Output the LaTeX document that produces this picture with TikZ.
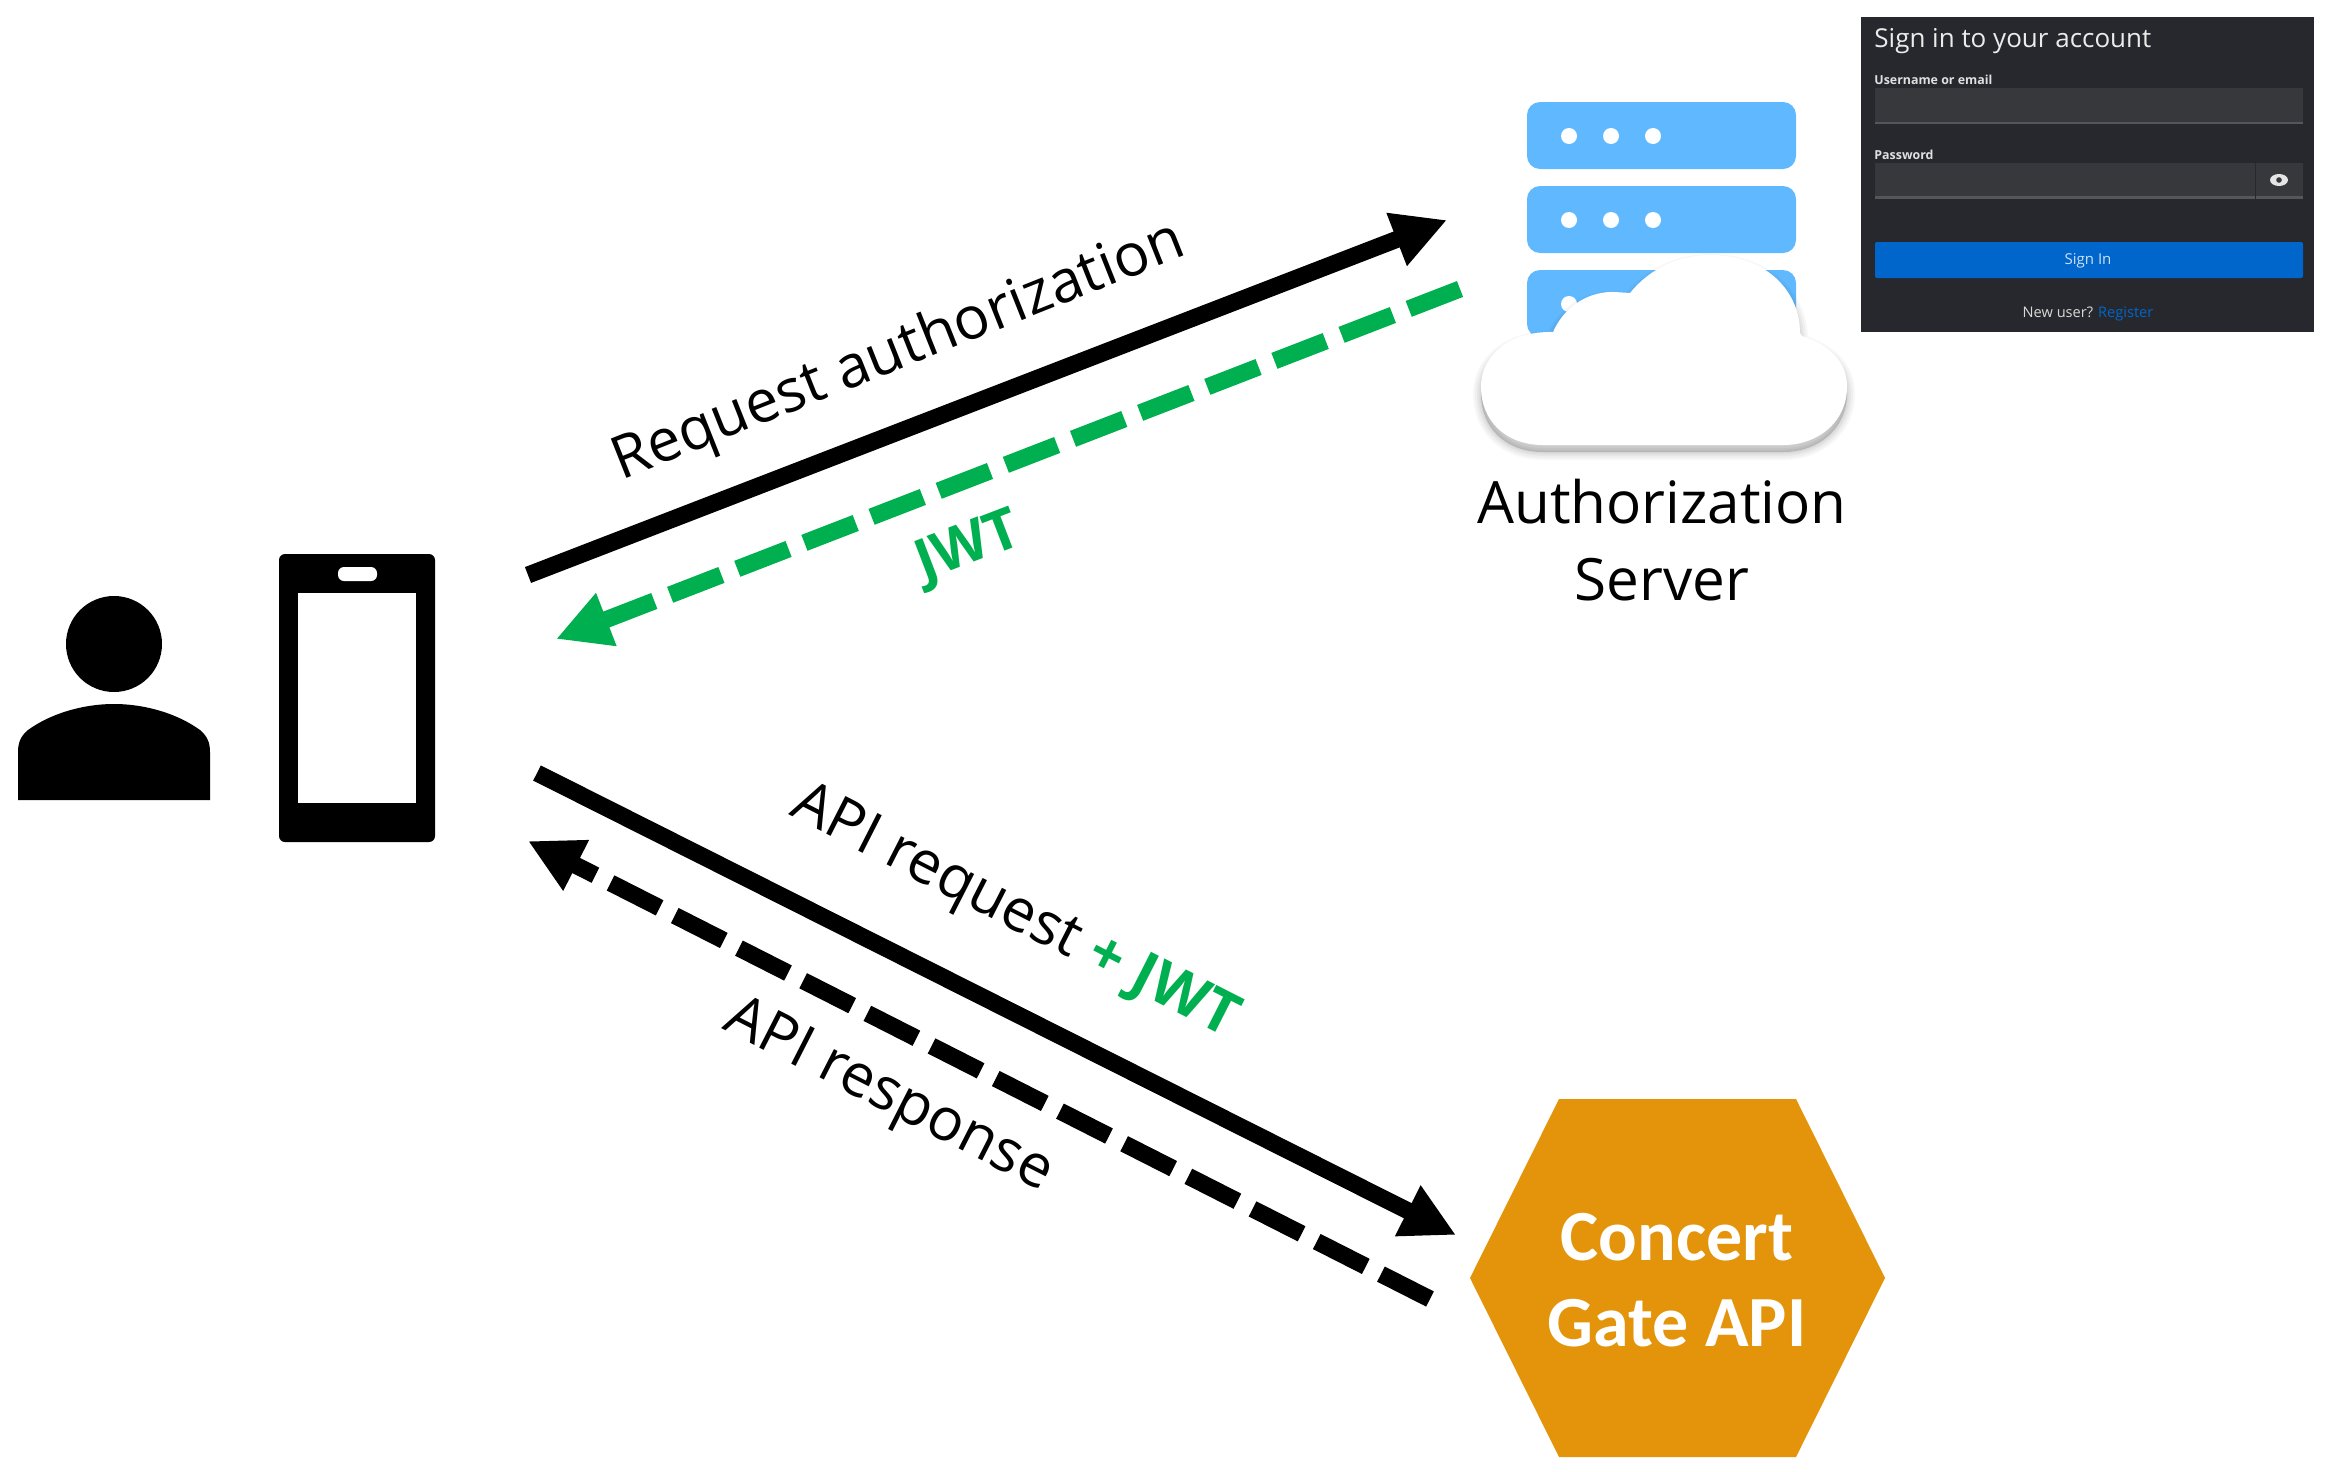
\documentclass[tikz,border=0pt]{standalone}
\usepackage{fontspec}
\setmainfont{Open Sans}
\newfontfamily\calibrifont{Carlito}
\usetikzlibrary{arrows.meta}
\definecolor{jwtgreen}{HTML}{00B050}
\definecolor{gateorange}{HTML}{E3940A}
\definecolor{serverblue}{HTML}{60B9FF}
\definecolor{paneldark}{HTML}{26282D}
\definecolor{fieldgrey}{HTML}{37383C}
\definecolor{linegrey}{HTML}{55565A}
\definecolor{signblue}{HTML}{0066CC}
\tikzset{
  flow/.style={line width=8.5pt,draw=black,-{Triangle[length=27pt,width=26.5pt]}},
  flowdash/.style={flow,dash pattern=on 27.5pt off 8.5pt},
  lab/.style={inner sep=0pt,font=\fontsize{29.6}{35}\selectfont},
  srvbar/.style={fill=serverblue,rounded corners=6.5pt},
  srvdot/.style={fill=white},
  formlab/.style={inner sep=0pt,anchor=west,text=white!88!black,font=\fontsize{6.2}{8}\selectfont\bfseries},
  formfield/.style={fill=fieldgrey},
}
\newcommand{\cloudshape}{(1543,445) .. controls (1505,445) and (1481,420) .. (1481,387) .. controls (1481,355) and (1510,331) .. (1553,332) .. controls (1565,305) and (1590,291) .. (1615,292) -- (1630,293) .. controls (1650,268) and (1680,255) .. (1710,255) .. controls (1765,255) and (1800,290) .. (1800,333) -- (1802,336) .. controls (1830,345) and (1847,362) .. (1847,387) .. controls (1847,420) and (1820,445) .. (1783,445) -- cycle}
\begin{document}
\begin{tikzpicture}[x=0.5pt,y=-0.5pt]
\useasboundingbox (0,0) rectangle (2329,1472);
\fill[white] (0,0) rectangle (2329,1472);

% person
\fill (114,644) circle[radius=24pt];
\fill (18,800) -- (18,752) .. controls (18,742) and (21,736) .. (28,730) .. controls (50,714) and (82,704) .. (114,704) .. controls (146,704) and (178,714) .. (200,730) .. controls (207,736) and (210,742) .. (210,752) -- (210,800) -- cycle;

% phone
\fill[rounded corners=3pt] (279,554) rectangle (435,842);
\fill[white] (298,593) rectangle (416,803);
\fill[white,rounded corners=3pt] (338,567) rectangle (377,581);

% server
\foreach \t/\n in {102/a,186/b,270/c}{
  \fill[srvbar] (1527,\t) rectangle ++(269,67);
  \foreach \x in {1569,1611,1653}{
    \fill[srvdot] (\x,\t+34) circle[radius=4pt];
  }
}
% cloud
\begin{scope}[shift={(0,7)}]
\foreach \w in {8,6,4,2.5,1}{
  \fill[black,opacity=.03] \cloudshape;
  \draw[black,opacity=.03,line width=\w pt] \cloudshape;
}
\end{scope}
\fill[white] \cloudshape;

\node[inner sep=0pt,align=center,font=\fontsize{29.2}{38.5}\selectfont] (authsrv) at (1662,540) {Authorization\\Server};

% login panel
\fill[paneldark] (1861,17) rectangle (2314,332);
\node[inner sep=0pt,anchor=base west,text=white!92!black,font=\fontsize{13}{15}\selectfont] (signtitle) at (1874,47) {Sign in to your account};
\node[formlab] (userlab) at (1874,80) {Username or email};
\fill[formfield] (1875,88) rectangle (2303,122);
\fill[linegrey] (1875,122) rectangle (2303,124);
\node[formlab] (passlab) at (1874,154.5) {Password};
\fill[formfield] (1875,163) rectangle (2303,196);
\fill[linegrey] (1875,196) rectangle (2303,199);
\draw[paneldark,line width=0.5pt] (2255,163) -- (2255,199);
\fill[white!90!black] (2279,180) ellipse[x radius=4.5pt,y radius=3pt];
\fill[fieldgrey] (2279,180) circle[radius=1.4pt];
\fill[signblue,rounded corners=1pt] (1875,242) rectangle (2303,278);
\node[inner sep=0pt,text=white!80!signblue,font=\fontsize{7.5}{9}\selectfont] (signbtn) at (2088,261) {Sign In};
\node[inner sep=0pt,text=white!85!black,font=\fontsize{7.3}{9}\selectfont] (newuser) at (2088,314) {New user? \textcolor{signblue}{Register}};

% gate hexagon
\fill[gateorange] (1470,1278) -- (1559,1099) -- (1796,1099) -- (1885,1278) -- (1796,1457) -- (1559,1457) -- cycle;
\node[inner sep=0pt,align=center,text=white,font=\calibrifont\bfseries\fontsize{36}{43}\selectfont] (gate) at (1677,1280) {Concert\\Gate API};

% connector ends
\coordinate (reqfrom) at (528,575);
\coordinate (reqto) at (1447,220);
\coordinate (jwtfrom) at (1460,289);
\coordinate (jwtto) at (556,639);
\coordinate (apifrom) at (537,773);
\coordinate (apito) at (1456,1235);
\coordinate (respfrom) at (1430,1299);
\coordinate (respto) at (528,841);

\draw[flow] (reqfrom) -- (reqto);
\draw[flowdash,draw=jwtgreen] (jwtfrom) -- (jwtto);
\draw[flow] (apifrom) -- (apito);
\draw[flowdash] (respfrom) -- (respto);

% labels
\node[lab,rotate=21.7] (reqlab) at (899,353) {Request authorization};
\node[lab,rotate=21,text=jwtgreen,font=\bfseries\fontsize{28.5}{35}\selectfont] (jwtlab) at (969,549) {JWT};
\node[lab,rotate=-27] (apilab) at (1014,914) {API request \textcolor{jwtgreen}{\bfseries + JWT}};
\node[lab,rotate=-27] (resplab) at (888,1097) {API response};
\end{tikzpicture}
\end{document}
